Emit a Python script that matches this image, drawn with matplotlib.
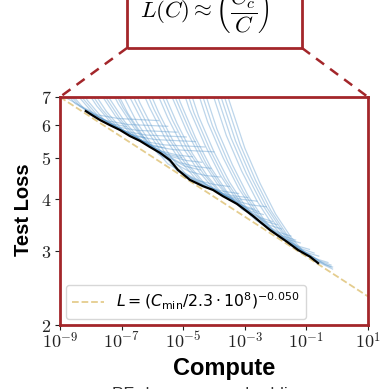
import matplotlib.pyplot as plt
import numpy as np
from matplotlib.lines import Line2D
from matplotlib.patches import Rectangle
from matplotlib.font_manager import FontProperties
from matplotlib.ticker import FixedLocator, FixedFormatter, NullLocator

plt.rcParams['mathtext.fontset'] = 'cm'

# compute-efficient frontier (black line): log10(compute), test loss
frontier_logC = [-8.16, -7.96, -7.70, -7.38, -7.05, -6.73, -6.40, -6.08, -5.75,
                 -5.43, -5.17, -4.78, -4.36, -4.03, -3.71, -3.25, -2.73, -2.18,
                 -1.63, -1.27, -0.88, -0.62]
frontier_L = [6.48, 6.34, 6.17, 6.00, 5.84, 5.65, 5.50, 5.32, 5.15,
              4.95, 4.69, 4.44, 4.29, 4.20, 4.06, 3.89, 3.64, 3.37,
              3.16, 3.02, 2.91, 2.81]

# power-law fit (dashed), read at the two ends of the x range
fit_C = [1e-9, 1e1]
fit_L = [7.0, 2.34]
fit_label = r'$L = (C_{\rm min}/2.3\cdot 10^{8})^{-0.050}$'

# learning curves (light blue), log10(compute) and test loss
curves_logC = [
    [-9.3, -8.8, -8.3, -7.8, -7.1, -5.8],
    [-9.0, -8.5, -8.0, -7.5, -6.8, -5.5],
    [-8.85, -8.35, -7.85, -7.35, -6.85],
    [-9.2, -8.7, -8.2, -7.7, -7.2, -6.5, -5.2],
    [-8.9, -8.4, -7.9, -7.4, -6.9, -6.2, -4.9],
    [-8.75, -8.25, -7.75, -7.25, -6.75, -6.25],
    [-8.6, -8.1, -7.6, -7.1, -6.6, -5.9, -4.6],
    [-8.3, -7.8, -7.3, -6.8, -6.3, -5.6, -4.3],
    [-8.15, -7.65, -7.15, -6.65, -6.15, -5.65],
    [-8.0, -7.5, -7.0, -6.5, -6.0, -5.3, -4.0],
    [-7.7, -7.2, -6.7, -6.2, -5.7, -5.2, -4.7],
    [-7.55, -7.05, -6.55, -6.05, -5.55, -5.05],
    [-7.9, -7.4, -6.9, -6.4, -5.9, -5.4, -4.9, -4.4],
    [-7.6, -7.1, -6.6, -6.1, -5.6, -5.1, -4.6, -4.1],
    [-7.45, -6.95, -6.45, -5.95, -5.45, -4.95, -4.45],
    [-7.3, -6.8, -6.3, -5.8, -5.3, -4.8, -4.3, -3.8],
    [-7.0, -6.5, -6.0, -5.5, -5.0, -4.5, -4.0, -3.5],
    [-7.2, -6.7, -6.2, -5.7, -5.2, -4.7, -4.2, -3.7, -3.2],
    [-6.9, -6.4, -5.9, -5.4, -4.9, -4.4, -3.9, -3.4, -2.9],
    [-7.05, -6.55, -6.05, -5.55, -5.05, -4.55, -4.15, -3.75],
    [-6.6, -6.1, -5.6, -5.1, -4.6, -4.1, -3.6, -3.1, -2.6],
    [-6.45, -5.95, -5.45, -4.95, -4.45, -3.95, -3.55, -3.15],
    [-6.3, -5.8, -5.3, -4.8, -4.3, -3.8, -3.3, -2.8, -2.3],
    [-6.0, -5.5, -5.0, -4.5, -4.0, -3.5, -3.1, -2.7],
    [-5.85, -5.35, -4.85, -4.35, -3.85, -3.35, -2.95, -2.55],
    [-5.7, -5.2, -4.7, -4.2, -3.7, -3.2, -2.8, -2.4],
    [-5.4, -4.9, -4.4, -3.9, -3.4, -2.9, -2.5, -2.1],
    [-5.75, -5.25, -4.75, -4.25, -3.75, -3.25, -2.75, -2.35, -1.95],
    [-5.6, -5.1, -4.6, -4.1, -3.6, -3.1, -2.6, -2.2, -1.8],
    [-5.3, -4.8, -4.3, -3.8, -3.3, -2.8, -2.3, -1.9, -1.5],
    [-5.15, -4.65, -4.15, -3.65, -3.15, -2.65, -2.15, -1.75, -1.35],
    [-5.0, -4.5, -4.0, -3.5, -3.0, -2.5, -2.0, -1.6, -1.2],
    [-4.7, -4.2, -3.7, -3.2, -2.7, -2.2, -1.7, -1.3, -0.9],
    [-4.55, -4.05, -3.55, -3.05, -2.55, -2.05, -1.55, -1.15, -0.75],
    [-4.4, -3.9, -3.4, -2.9, -2.4, -1.9, -1.4, -1.0, -0.6],
    [-4.1, -3.6, -3.1, -2.6, -2.1, -1.6, -1.1, -0.7, -0.3],
    [-3.95, -3.45, -2.95, -2.45, -1.95, -1.45, -0.95, -0.55, -0.2],
    [-3.8, -3.3, -2.8, -2.3, -1.8, -1.3, -0.8, -0.4, -0.15],
    [-4.15, -3.65, -3.15, -2.65, -2.15, -1.65, -1.15, -0.65, -0.2],
    [-4.0, -3.5, -3.0, -2.5, -2.0, -1.5, -1.0, -0.5, -0.15],
]
curves_L = [
    [7.70, 6.97, 6.65, 6.35, 6.22, 6.15],
    [7.45, 6.75, 6.43, 6.15, 6.02, 5.96],
    [7.34, 6.65, 6.33, 6.05, 5.95],
    [8.21, 7.22, 6.54, 6.23, 5.95, 5.83, 5.77],
    [7.99, 7.03, 6.37, 6.07, 5.80, 5.68, 5.62],
    [7.89, 6.94, 6.29, 5.99, 5.72, 5.60],
    [7.79, 6.86, 6.21, 5.92, 5.65, 5.54, 5.48],
    [7.57, 6.66, 6.03, 5.75, 5.49, 5.38, 5.32],
    [7.46, 6.56, 5.95, 5.67, 5.41, 5.30],
    [7.37, 6.48, 5.87, 5.60, 5.35, 5.24, 5.18],
    [7.17, 6.31, 5.71, 5.44, 5.20, 5.09, 5.04],
    [7.06, 6.21, 5.63, 5.36, 5.12, 5.02],
    [8.21, 6.96, 6.12, 5.54, 5.28, 5.05, 4.94, 4.89],
    [7.94, 6.73, 5.92, 5.36, 5.11, 4.88, 4.78, 4.73],
    [7.79, 6.60, 5.80, 5.26, 5.01, 4.79, 4.69],
    [7.57, 6.41, 5.64, 5.11, 4.87, 4.65, 4.55, 4.51],
    [7.19, 6.09, 5.36, 4.85, 4.63, 4.42, 4.33, 4.28],
    [8.42, 6.92, 5.87, 5.16, 4.67, 4.45, 4.26, 4.17, 4.12],
    [8.23, 6.77, 5.73, 5.04, 4.57, 4.35, 4.16, 4.07, 4.03],
    [8.33, 6.85, 5.80, 5.10, 4.62, 4.40, 4.23, 4.14],
    [8.06, 6.63, 5.61, 4.94, 4.47, 4.26, 4.07, 3.99, 3.95],
    [7.96, 6.55, 5.55, 4.88, 4.42, 4.21, 4.04, 3.96],
    [7.83, 6.44, 5.45, 4.80, 4.35, 4.14, 3.96, 3.87, 3.83],
    [7.60, 6.25, 5.29, 4.66, 4.22, 4.02, 3.86, 3.78],
    [7.51, 6.17, 5.23, 4.60, 4.17, 3.97, 3.81, 3.73],
    [7.37, 6.06, 5.13, 4.52, 4.09, 3.90, 3.74, 3.67],
    [7.11, 5.84, 4.95, 4.35, 3.94, 3.76, 3.61, 3.53],
    [9.02, 6.97, 5.73, 4.85, 4.27, 3.87, 3.69, 3.54, 3.47],
    [8.82, 6.82, 5.60, 4.75, 4.18, 3.78, 3.61, 3.46, 3.39],
    [8.47, 6.55, 5.39, 4.56, 4.01, 3.64, 3.46, 3.33, 3.26],
    [8.30, 6.42, 5.28, 4.47, 3.93, 3.56, 3.39, 3.26, 3.19],
    [8.15, 6.30, 5.18, 4.39, 3.86, 3.50, 3.33, 3.20, 3.14],
    [7.88, 6.09, 5.01, 4.24, 3.73, 3.38, 3.22, 3.09, 3.03],
    [7.73, 5.98, 4.91, 4.16, 3.66, 3.32, 3.16, 3.04, 2.97],
    [7.58, 5.86, 4.82, 4.08, 3.59, 3.25, 3.10, 2.98, 2.92],
    [7.34, 5.67, 4.66, 3.95, 3.47, 3.15, 3.00, 2.88, 2.82],
    [7.24, 5.60, 4.60, 3.90, 3.43, 3.11, 2.96, 2.84, 2.78],
    [7.11, 5.50, 4.52, 3.83, 3.37, 3.05, 2.91, 2.79, 2.75],
    [9.31, 6.97, 5.39, 4.43, 3.75, 3.30, 2.99, 2.85, 2.75],
    [9.14, 6.84, 5.29, 4.35, 3.68, 3.24, 2.94, 2.80, 2.72],
]

x_ticks = [1e-9, 1e-7, 1e-5, 1e-3, 1e-1, 1e1]
x_ticklabels = [r'$10^{-9}$', r'$10^{-7}$', r'$10^{-5}$', r'$10^{-3}$', r'$10^{-1}$', r'$10^{1}$']
y_ticks = [2, 3, 4, 5, 6, 7]
y_ticklabels = [r'$2$', r'$3$', r'$4$', r'$5$', r'$6$', r'$7$']

red = '#a3262a'

fig = plt.figure(figsize=(3.89, 3.89), dpi=100)
ax = fig.add_axes([0.154, 0.1645, 0.792, 0.5861])

for lc, ll in zip(curves_logC, curves_L):
    ax.plot(10.0 ** np.array(lc), ll, color='#5a98cc', alpha=0.4, lw=0.9)

ax.plot(fit_C, fit_L, ls='--', color='#e0c47a', alpha=0.85, lw=1.3, label=fit_label)
ax.plot(10.0 ** np.array(frontier_logC), frontier_L, color='black', lw=1.6)

ax.set_xscale('log')
ax.set_yscale('log')
ax.set_xlim(1e-9, 1e1)
ax.set_ylim(2, 7)

ax.xaxis.set_major_locator(FixedLocator(x_ticks))
ax.xaxis.set_major_formatter(FixedFormatter(x_ticklabels))
ax.xaxis.set_minor_locator(NullLocator())
ax.yaxis.set_major_locator(FixedLocator(y_ticks))
ax.yaxis.set_major_formatter(FixedFormatter(y_ticklabels))
ax.yaxis.set_minor_locator(NullLocator())
ax.tick_params(axis='both', length=3.5, width=0.8, pad=2.5, labelsize=13, colors='#222222')
ax.tick_params(axis='x', pad=1.2)

for sp in ax.spines.values():
    sp.set_color(red)
    sp.set_linewidth(2.0)

ax.legend(loc='lower left', prop=FontProperties(size=11.3, math_fontfamily='dejavusans'),
          borderaxespad=0.4, framealpha=0.85, edgecolor='#d0d0d0', fancybox=True)

fig.text(24 / 389, 1 - 210 / 389, 'Test Loss', rotation=90, ha='center', va='center',
         fontsize=14.5, fontweight='bold', family='Liberation Sans')
fig.text(224 / 389, 1 - 369 / 389, 'Compute', ha='center', va='center',
         fontsize=17, fontweight='bold', family='Liberation Sans')
fig.text(210 / 389, 1 - 387.5 / 389, 'PF-days, non-embedding', ha='center', va='top',
         fontsize=12.5, family='Liberation Sans', color='#333333')

# zoom box with the formula at the top, cut by the figure edge
bx0, bx1, by0 = 127 / 389, 302 / 389, 1 - 48 / 389
fig.patches.append(Rectangle((bx0, by0), bx1 - bx0, 0.2, transform=fig.transFigure,
                             fill=False, edgecolor=red, lw=2.0, clip_on=False))
fig.text(140 / 389, 1 - 17 / 389,
         r'$L(C) \approx \left(\dfrac{C_c}{C}\right)$',
         ha='left', va='baseline', fontsize=16.5)
fig.text(268 / 389, 1 + 2 / 389, r'$\alpha_C$', ha='left', va='baseline', fontsize=13)

pos = ax.get_position()
for xa, xb in [(bx0, pos.x0), (bx1, pos.x1)]:
    fig.lines.append(Line2D([xa, xb], [by0, pos.y1], transform=fig.transFigure,
                            color=red, lw=1.8, ls=(0, (4, 3))))

fig.savefig('out.png', dpi=100)
